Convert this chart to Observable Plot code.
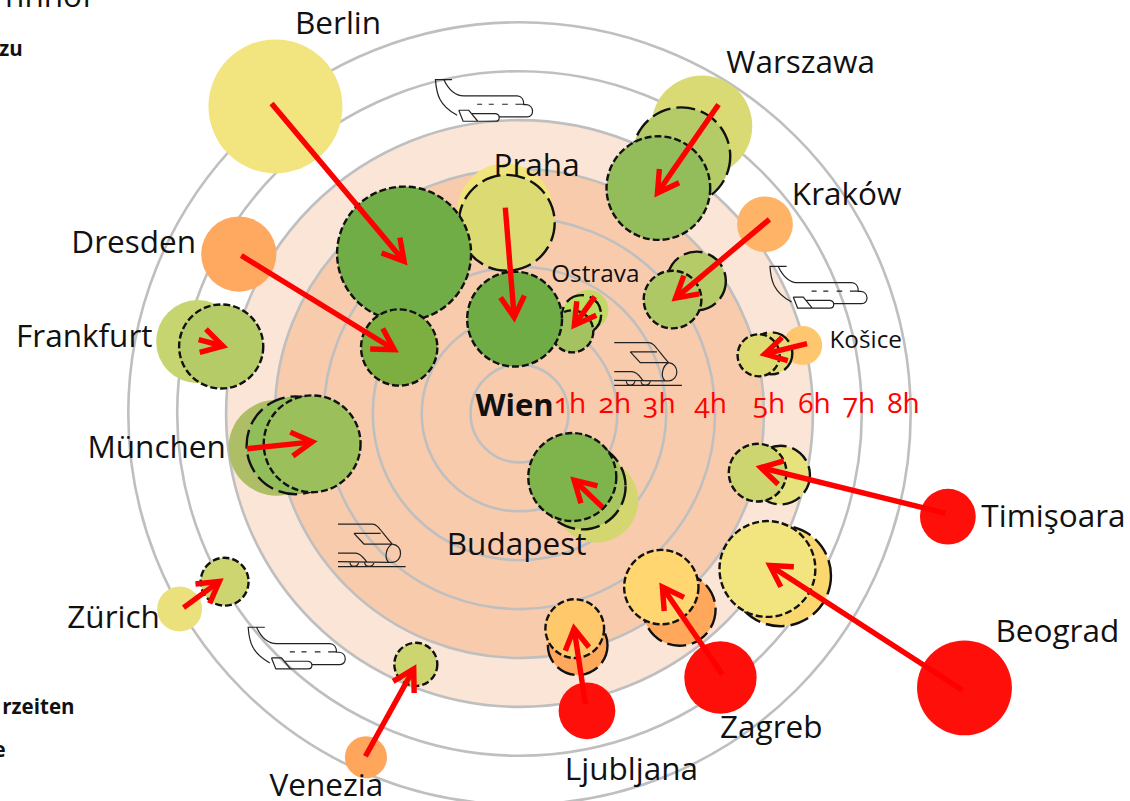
<!DOCTYPE html>
<html><head><meta charset="utf-8">
<script src="https://cdn.jsdelivr.net/npm/d3@7"></script>
<script src="https://cdn.jsdelivr.net/npm/@observablehq/plot@0.6"></script>
<style>html,body{margin:0;padding:0;background:#fff;overflow:hidden}svg{display:block}svg text{font-feature-settings:"onum" 1;font-variant-numeric:oldstyle-nums}</style>
</head><body><div id="chart"></div>
<script>
// All positions are travel times in hours east/north of Wien; sizes are in hours as well.
const hours = [1, 2, 3, 4, 5, 6, 7, 8];
const hourLabels = ["1h", "2h", "3h", "4h", "5h", "6h", "7h", "8h"];
const hourLabelEast = [1.03, 1.95, 2.86, 3.91, 5.10, 6.03, 6.94, 7.85];

const cities = ["Berlin","Dresden","Frankfurt","München","Zürich","Venezia","Ljubljana","Zagreb","Beograd","Timişoara","Budapest","Košice","Kraków","Ostrava","Warszawa","Praha"];

const baseEast  = [-4.99,-5.74,-6.58,-4.97,-6.95,-3.14,1.38,4.11,9.10,8.76,1.57,5.79,5.02,1.41,3.73,-0.29];
const baseNorth = [6.28,3.26,1.47,-0.70,-4.00,-7.03,-6.08,-5.40,-5.61,-2.11,-1.78,1.39,3.87,2.12,5.88,4.13];
const baseSize  = [1.37,0.77,0.85,0.98,0.46,0.43,0.58,0.74,0.97,0.57,0.86,0.40,0.57,0.41,1.03,0.98];
const baseFill  = ["#f2e57f","#ffa85f","#c6d56f","#aebe66","#eae07c","#ffa55c","#ff0f0a","#ff0f0a","#ff0f0a","#ff0f0a","#d4d76f","#ffc670","#ffb366","#c4d86a","#d9da73","#f0e47a"];

const midCities = ["München","Ljubljana","Zagreb","Beograd","Timişoara","Budapest","Košice","Kraków","Ostrava","Warszawa","Praha"];
const midEast  = [-4.58,1.19,3.27,5.34,5.34,1.29,5.15,3.62,1.27,3.31,-0.26];
const midNorth = [-0.65,-4.74,-4.01,-3.32,-1.26,-1.49,1.23,2.71,2.02,5.26,3.90];
const midSize  = [1.00,0.61,0.74,1.03,0.60,0.88,0.43,0.60,0.40,1.00,0.98];
const midFill  = ["#92bd5b","#ffa85c","#ffa85c","#fbd86f","#e6e27c","#a8c55f","#e3dd77","#b5cb67","#bade5f","#b5cb67","#dcdb73"];

const targetEast  = [-2.36,-2.46,-6.10,-4.24,-6.03,-2.12,1.13,2.90,5.07,4.87,1.08,4.89,3.13,1.08,2.84,-0.10];
const targetNorth = [3.27,1.35,1.37,-0.62,-3.44,-5.13,-4.40,-3.55,-3.18,-1.21,-1.30,1.19,2.33,1.68,4.61,1.93];
const targetSize  = [1.37,0.78,0.86,0.99,0.49,0.44,0.60,0.76,0.98,0.59,0.90,0.43,0.59,0.43,1.06,0.97];
const targetFill  = ["#70ad47","#7cae40","#b5cb67","#9bc05b","#cdd570","#cdd570","#ffc86b","#ffd670","#f2e57f","#cdd570","#7fb44d","#dfdb73","#adc865","#a4c260","#93bc5b","#6fac46"];

const arrowEast1  = [-5.07,-5.69,-6.56,-5.57,-6.87,-3.15,1.35,4.15,9.06,8.71,1.70,5.88,5.11,1.54,4.07,-0.29];
const arrowNorth1 = [6.34,3.23,1.51,-0.72,-3.97,-7.01,-5.95,-5.34,-5.66,-2.04,-1.92,1.43,3.97,2.39,6.32,4.21];
const arrowEast2  = [-2.29,-2.47,-5.96,-4.13,-6.05,-2.11,1.10,2.86,5.03,4.83,1.04,4.91,3.11,1.06,2.76,-0.10];
const arrowNorth2 = [3.03,1.25,1.35,-0.57,-3.37,-5.13,-4.29,-3.46,-3.05,-1.08,-1.29,1.19,2.29,1.72,4.42,1.86];

const labelText  = ["Berlin","Warszawa","Praha","Kraków","Dresden","Frankfurt","München","Budapest","Timişoara","Zürich","Beograd","Zagreb","Ljubljana","Venezia"];
const labelEast  = [-3.71,5.75,0.35,6.69,-7.89,-8.90,-7.42,-0.06,10.92,-8.30,11.0,5.15,2.29,-3.95];
const labelNorth = [7.96,7.16,5.07,4.48,3.48,1.57,-0.70,-2.68,-2.11,-4.19,-4.46,-6.44,-7.28,-7.61];

const smallText  = ["Ostrava","Košice"];
const smallEast  = [1.55,7.08];
const smallNorth = [2.84,1.49];

// Fragments cut off by the left and top edge of the picture
const fragmentText  = ["zu","rzeiten","e"];
const fragmentEast  = [-10.16,-9.10,-10.51];
const fragmentNorth = [7.44,-6.01,-6.89];
const cutTitle = ["nnhof"];

const planeEast  = [-0.73,6.11,-4.56];
const planeNorth = [6.44,2.62,-4.76];
const trainEast  = [2.64,-3.01];
const trainNorth = [1.02,-2.69];

const tbl = (names, ...cols) => names.map((name, i) => ({name, a: cols[0]?.[i], b: cols[1]?.[i], c: cols[2]?.[i], d: cols[3]?.[i]}));

// Icon glyphs drawn as custom Plot symbols, in px about their centre (3x zoom units).
const g = (f) => ({draw(c){ f({
  M:(x,y)=>c.moveTo(x/3,y/3), L:(x,y)=>c.lineTo(x/3,y/3),
  C:(a,b,d,e,x,y)=>c.bezierCurveTo(a/3,b/3,d/3,e/3,x/3,y/3)
}); }});
const plane = g(p => {
  const o=(x,y)=>[x-190,y-115];
  const M=(x,y)=>p.M(...o(x,y)), L=(x,y)=>p.L(...o(x,y)), C=(a,b,d,e,x,y)=>p.C(...o(a,b),...o(d,e),...o(x,y));
  M(95,58);L(45,58);C(48,100,55,135,110,165);
  M(70,58);C(85,90,105,107,130,107);L(290,107);C(303,107,310,118,310,133);L(318,133);C(342,135,342,170,320,170);L(236,170);
  M(115,150);L(145,150);L(172,183);L(128,183);L(115,150);
  M(155,160);L(225,160);C(240,162,240,183,225,183);L(172,183);
  M(170,132);L(185,132);M(205,132);L(220,132);M(245,132);L(262,132);M(285,132);L(310,132);
});
const train = g(p => {
  const o=(x,y)=>[x-145,y-100];
  const M=(x,y)=>p.M(...o(x,y)), L=(x,y)=>p.L(...o(x,y)), C=(a,b,d,e,x,y)=>p.C(...o(a,b),...o(d,e),...o(x,y));
  M(42,37);L(145,37);C(162,37,170,58,205,97);
  M(90,65);L(170,65);M(90,65);L(120,97);L(205,97);
  C(238,100,238,150,205,152);L(195,152);C(180,140,185,108,205,97);
  M(42,124);L(95,124);C(110,124,118,138,128,150);
  M(42,150);L(195,152);
  M(42,165);L(245,165);
  M(78,153);C(80,168,100,168,104,153);M(122,153);C(124,168,146,168,150,153);
});

// Arrow head of a fixed size: an SVG marker, so that short arrows keep the same head as long ones.
const head = (color, context) => {
  const m = d3.select(context.document.createElementNS("http://www.w3.org/2000/svg", "marker"))
    .attr("viewBox", "-30 -17 40 34").attr("markerUnits", "userSpaceOnUse")
    .attr("markerWidth", 40).attr("markerHeight", 34).attr("orient", "auto");
  m.append("path").attr("d", "M-21.2,-12L-0.4,0L-21.2,12").attr("fill", "none")
    .attr("stroke", "#ff0000").attr("stroke-width", 5.4).attr("stroke-miterlimit", 10);
  return m.node();
};
// The shaft stops just short of the tip, so that its square end stays inside the head.
const arrowRows = cities.map((name, i) => {
  const de = arrowEast2[i] - arrowEast1[i], dn = arrowNorth2[i] - arrowNorth1[i];
  const f = 1 - 0.1 / Math.hypot(de, dn);
  return {name, a: arrowEast1[i], b: arrowNorth1[i], c: arrowEast1[i] + de * f, d: arrowNorth1[i] + dn * f};
});

const F = "Open Sans";
const chart = Plot.plot({
  width: 1130, height: 801, margin: 0,
  x: {domain: [-10.613, 12.495], range: [0, 1130], axis: null},
  y: {domain: [-7.935, 8.446], range: [801, 0], axis: null},
  r: {type: "linear", domain: [0, 1], range: [0, 48.9]},
  style: {fontFamily: F, background: "#fff", overflow: "hidden"},
  marks: [
    Plot.dot([6], {x: () => 0, y: () => 0, r: d => d, fill: "#fbe5d6", stroke: "none"}),
    Plot.dot([5], {x: () => 0, y: () => 0, r: d => d, fill: "#f8cbad", stroke: "none"}),
    Plot.dot(hours, {x: () => 0, y: () => 0, r: d => d, fill: "none", stroke: "#bfbfbf", strokeWidth: 2.6}),
    Plot.dot(tbl(cities, baseEast, baseNorth, baseSize, baseFill), {x: "a", y: "b", r: "c", fill: "d", stroke: "none", sort: null}),
    Plot.dot(tbl(midCities, midEast, midNorth, midSize, midFill), {x: "a", y: "b", r: "c", fill: "d", stroke: "#111", strokeWidth: 2.4, strokeDasharray: "19 6", sort: null}),
    Plot.dot(tbl(cities, targetEast, targetNorth, targetSize, targetFill), {x: "a", y: "b", r: "c", fill: "d", stroke: "#111", strokeWidth: 2.4, strokeDasharray: "7 3", sort: null}),
    Plot.dot(tbl(planeEast, planeEast, planeNorth), {x: "a", y: "b", r: 5, symbol: plane, fill: "none", stroke: "#222", strokeWidth: 1.2}),
    Plot.dot(tbl(trainEast, trainEast, trainNorth), {x: "a", y: "b", r: 5, symbol: train, fill: "none", stroke: "#222", strokeWidth: 1.2}),
    Plot.link(arrowRows, {x1: "a", y1: "b", x2: "c", y2: "d", stroke: "#ff0000", strokeWidth: 5.4, strokeLinecap: "butt", markerEnd: head}),
    Plot.text(tbl(labelText, labelEast, labelNorth), {x: "a", y: "b", text: "name", fontSize: 31.5, fill: "#111"}),
    Plot.text(tbl(smallText, smallEast, smallNorth), {x: "a", y: "b", text: "name", fontSize: 24.3, fill: "#111"}),
    Plot.text(["Wien"], {x: () => -0.10, y: () => 0.16, text: d => d, fontSize: 31, fontWeight: 700, fill: "#111"}),
    Plot.text(hourLabels, {x: (d, i) => hourLabelEast[i], y: () => 0.20, text: d => d, fontSize: 28, fill: "#ff0000"}),
    Plot.text(tbl(fragmentText, fragmentEast, fragmentNorth), {x: "a", y: "b", text: "name", textAnchor: "end", fontSize: 20.5, fontWeight: 700, fill: "#111"}),
    Plot.text(cutTitle, {x: () => -8.73, y: () => 8.51, text: d => d, textAnchor: "end", fontSize: 31.5, fill: "#111"})
  ]
});
document.getElementById("chart").append(chart);
</script></body></html>
